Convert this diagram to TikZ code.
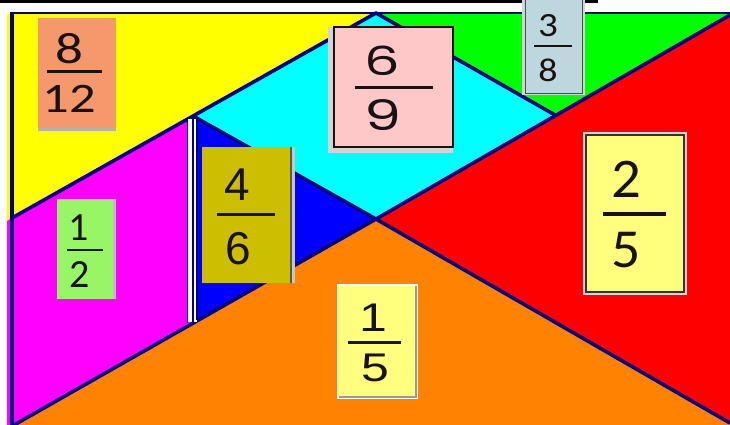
\documentclass[tikz,border=0pt]{standalone}
\usepackage{fontspec}
\usepackage{graphicx}
\newfontfamily\calfont{Carlito}
\newfontfamily\arifont{Liberation Sans}
\newfontfamily\gotfont{Poppins}
\newcommand{\fsz}[1]{\fontsize{#1}{#1}\selectfont}
\definecolor{navyline}{RGB}{0,0,128}
\definecolor{pieceyellow}{RGB}{255,255,0}
\definecolor{piececyan}{RGB}{0,255,255}
\definecolor{piecegreen}{RGB}{0,255,0}
\definecolor{piecered}{RGB}{255,0,0}
\definecolor{piecemagenta}{RGB}{255,0,255}
\definecolor{pieceblue}{RGB}{0,0,255}
\definecolor{pieceorange}{RGB}{255,130,0}
\definecolor{salmonbox}{RGB}{245,152,108}
\definecolor{pinkbox}{RGB}{255,200,200}
\definecolor{steelbox}{RGB}{190,215,222}
\definecolor{olivebox}{RGB}{204,190,0}
\definecolor{limebox}{RGB}{152,245,102}
\definecolor{paleyellow}{RGB}{255,255,125}
\definecolor{framegray}{RGB}{212,212,212}
\definecolor{inkdark}{RGB}{25,18,18}

\begin{document}
\begin{tikzpicture}[x=1pt,y=-1pt]
  \tikzset{
    edge/.style={draw=navyline,line width=3.6pt,line join=round},
    digit/.style={inner sep=0pt,text=inkdark},
    fbar/.style={draw=inkdark,line width=3pt},
  }
  \useasboundingbox (0,0) rectangle (730,425);
  % ---- corner points of the pieces ----
  \coordinate (tl) at (12,13);
  \coordinate (tr) at (730,13);
  \coordinate (apex) at (376,13);
  \coordinate (ml) at (12,218);
  \coordinate (lv) at (193,116);
  \coordinate (lb) at (193,322);
  \coordinate (rv) at (555,115);
  \coordinate (ctr) at (376,219);
  \coordinate (rt) at (730,15);
  \coordinate (rb) at (730,423);
  \coordinate (bl) at (14,425);
  \coordinate (br) at (730,425);
  % ---- pieces ----
  \fill[pieceyellow] (7,14) -- (apex) -- (ml) -- (7,221) -- cycle;
  \fill[piecemagenta] (7,221) -- (ml) -- (lv) -- (lb) -- (bl) -- (7,425) -- cycle;
  \fill[piececyan] (lv) -- (apex) -- (rv) -- (ctr) -- cycle;
  \fill[piecegreen] (apex) -- (tr) -- (rt) -- (rv) -- cycle;
  \fill[piecered] (rt) -- (rb) -- (ctr) -- cycle;
  \fill[pieceblue] (lv) -- (ctr) -- (lb) -- cycle;
  \fill[pieceorange] (bl) -- (ctr) -- (rb) -- (br) -- cycle;
  % ---- edges ----
  \draw[edge] (ml) -- (apex) -- (rv);
  \draw[edge] (rt) -- (ctr) -- (bl);
  \draw[edge] (lv) -- (ctr) -- (rb);
  \fill[white] (188,119) rectangle (196.5,322);
  \draw[navyline,line width=1pt] (187.8,118) -- (187.8,323);
  \draw[navyline,line width=2pt] (193,117) -- (193,322);
  \draw[navyline,line width=1.4pt] (197,118) -- (197,320);
  \draw[navyline,line width=2pt] (tl) -- (tr);
  \draw[navyline,line width=3.6pt] (12,12) -- (12,425);
  \fill[black] (0,0) rectangle (598,3);
  % ---- 8/12 ----
  \fill[salmonbox] (38,18) rectangle (116,128);
  \fill[black!30] (38,128) rectangle (116,130.5);
  \node[digit,font=\calfont\fsz{44}] (n8) at (69,49) {\scalebox{1.25}[1]{8}};
  \draw[fbar] (47,72) -- (102,72);
  \node[digit,font=\calfont\fsz{42}] (d12) at (69,99) {\scalebox{1.25}[1]{12}};
  % ---- 6/9 ----
  \fill[framegray] (328,27) rectangle (453,153);
  \filldraw[fill=pinkbox,draw=inkdark,line width=1.3pt] (334,27) rectangle (453,147);
  \node[digit,font=\gotfont\fsz{40}] (n6) at (382,61) {\scalebox{1.4}[1]{6}};
  \draw[fbar] (355,88) -- (433,88);
  \node[digit,font=\gotfont\fsz{42}] (d9) at (383,115) {\scalebox{1.4}[1]{9}};
  % ---- 3/8 ----
  \fill[framegray] (522,0) rectangle (585,95);
  \filldraw[fill=steelbox,draw=black!70,line width=0.9pt] (525,-1) rectangle (582,93);
  \node[digit,font=\calfont\fsz{34}] (n3) at (548,26) {\scalebox{1.15}[1]{3}};
  \draw[fbar,line width=2.5pt] (534,46) -- (572,46);
  \node[digit,font=\calfont\fsz{33}] (d8) at (548,70.5) {\scalebox{1.15}[1]{8}};
  % ---- 4/6 ----
  \fill[olivebox] (202,147) rectangle (290,283);
  \fill[black!65] (290,147) rectangle (291.5,283);
  \fill[black!22] (291.5,147) rectangle (295,283);
  \node[digit,font=\arifont\fsz{46}] (n4) at (237,184.5) {4};
  \draw[fbar] (217,214) -- (275,214);
  \node[digit,font=\arifont\fsz{46}] (d6) at (238,249) {6};
  % ---- 1/2 ----
  \fill[limebox] (57,199) rectangle (113,299);
  \fill[black!25] (113,199) rectangle (116,299);
  \node[digit,font=\calfont\fsz{40}] (n1) at (79,228) {1};
  \draw[fbar,line width=2.5pt] (67,250) -- (103,250);
  \node[digit,font=\calfont\fsz{40}] (d2) at (80,274.5) {2};
  % ---- 2/5 ----
  \fill[framegray] (583,132) rectangle (687,295);
  \filldraw[fill=paleyellow,draw=black!80,line width=1.2pt] (586,135) rectangle (684,292);
  \node[digit,font=\calfont\fsz{56}] (n2) at (626,179) {\scalebox{1.05}[1]{2}};
  \draw[fbar,line width=3.6pt] (603,214) -- (666,214);
  \node[digit,font=\calfont\fsz{55}] (d5) at (626,250) {\scalebox{1.05}[1]{5}};
  % ---- 1/5 ----
  \fill[white] (337,284) rectangle (418,399);
  \fill[black!40] (339,286) rectangle (417,398);
  \fill[paleyellow] (338,286) rectangle (415,396);
  \node[digit,font=\arifont\fsz{40}] (n1b) at (373,317.5) {\scalebox{1.25}[1]{1}};
  \draw[fbar] (348,342) -- (401,342);
  \node[digit,font=\arifont\fsz{40}] (d5b) at (375,367.5) {\scalebox{1.25}[1]{5}};
\end{tikzpicture}
\end{document}
